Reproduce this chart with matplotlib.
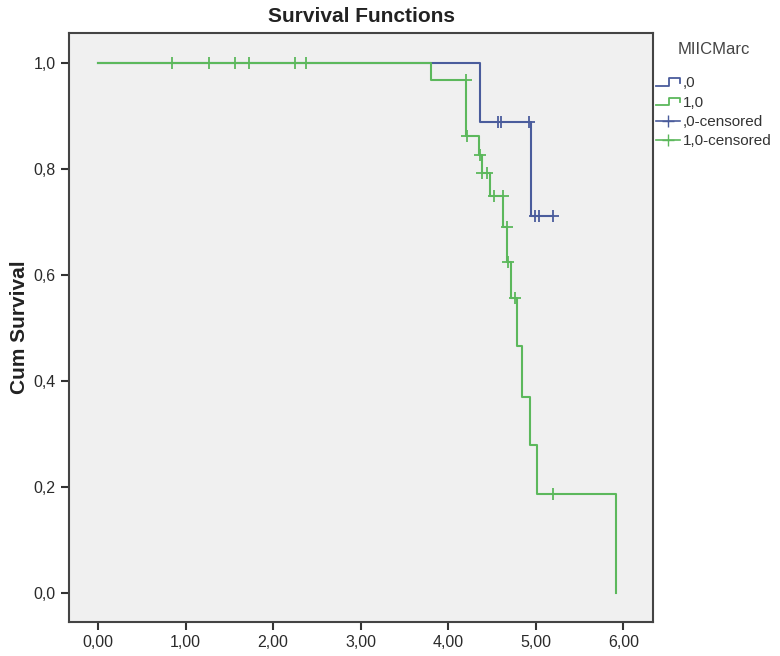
import matplotlib.pyplot as plt
from matplotlib.legend_handler import HandlerBase
from matplotlib.lines import Line2D
from matplotlib.ticker import FuncFormatter

plt.rcParams['font.family'] = ['Liberation Sans', 'DejaVu Sans']

# group ,0
t0 = [0.0, 4.36, 4.94, 5.19]
s0 = [1.0, 0.889, 0.711, 0.711]
c0_t = [4.57, 4.60, 4.92, 4.99, 5.04, 5.19]
c0_s = [0.889, 0.889, 0.889, 0.711, 0.711, 0.711]

# group 1,0
t1 = [0.0, 3.80, 4.20, 4.35, 4.38, 4.48, 4.63, 4.67, 4.72, 4.78, 4.84, 4.93, 5.01, 5.91, 5.91]
s1 = [1.0, 0.967, 0.863, 0.826, 0.792, 0.748, 0.691, 0.625, 0.557, 0.465, 0.370, 0.279, 0.187, 0.0, 0.0]
c1_t = [0.85, 1.27, 1.57, 1.73, 2.25, 2.38, 4.20, 4.21, 4.36, 4.39, 4.44, 4.52, 4.62,
        4.67, 4.68, 4.76, 5.19]
c1_s = [1.0, 1.0, 1.0, 1.0, 1.0, 1.0, 0.967, 0.863, 0.826, 0.792, 0.792, 0.748, 0.748,
        0.691, 0.625, 0.557, 0.187]

blue = '#4a5c9c'
green = '#5cb85c'


class StepHandler(HandlerBase):
    def create_artists(self, legend, orig_handle, x0, y0, w, h, fontsize, trans):
        xs = [x0, x0 + 0.55 * w, x0 + 0.55 * w, x0 + w, x0 + w]
        ys = [y0 + 0.15 * h, y0 + 0.15 * h, y0 + 0.85 * h, y0 + 0.85 * h, y0 + 0.4 * h]
        ln = Line2D(xs, ys, color=orig_handle.get_color(), lw=1.3, transform=trans)
        return [ln]


fig = plt.figure(figsize=(7.8, 6.56), dpi=100)
ax = fig.add_axes([0.0885, 0.052, 0.749, 0.898])
ax.set_facecolor('#f0f0f0')

ax.step(t0, s0, where='post', color=blue, lw=1.5)
ax.plot(c0_t, c0_s, ls='none', marker='+', ms=9, mew=1.3, color=blue)
ax.step(t1, s1, where='post', color=green, lw=1.5)
ax.plot(c1_t, c1_s, ls='none', marker='+', ms=9, mew=1.3, color=green)

ax.set_xlim(-0.33, 6.34)
ax.set_ylim(-0.055, 1.057)
ax.set_xticks([0, 1, 2, 3, 4, 5, 6])
ax.set_yticks([0, 0.2, 0.4, 0.6, 0.8, 1.0])
ax.xaxis.set_major_formatter(FuncFormatter(lambda v, p: f'{v:.2f}'.replace('.', ',')))
ax.yaxis.set_major_formatter(FuncFormatter(lambda v, p: f'{v:.1f}'.replace('.', ',')))
ax.tick_params(colors='#333333', labelsize=11.5, width=1.5, length=6, labelcolor='#2a2a2a')
for sp in ax.spines.values():
    sp.set_color('#444444')
    sp.set_linewidth(1.5)

ax.set_title('Survival Functions', fontsize=15, fontweight='bold', color='#222222', pad=8)
ax.set_ylabel('Cum Survival', fontsize=15, fontweight='bold', color='#222222', labelpad=3)

h_step0 = Line2D([], [], color=blue)
h_step1 = Line2D([], [], color=green)
h_c0 = Line2D([], [], color=blue, marker='+', ms=9, lw=1.2)
h_c1 = Line2D([], [], color=green, marker='+', ms=9, lw=1.2)
leg = fig.legend([h_step0, h_step1, h_c0, h_c1], [',0', '1,0', ',0-censored', '1,0-censored'],
                 handler_map={h_step0: StepHandler(), h_step1: StepHandler()},
                 title='MIICMarc\n', loc='upper left', bbox_to_anchor=(0.815, 0.966),
                 frameon=False, fontsize=11, title_fontsize=12,
                 handlelength=1.6, handletextpad=0.2, labelspacing=0.35,
                 borderpad=1.3, borderaxespad=0)
leg.get_title().set_color('#444444')
leg.get_title().set_linespacing(0.9)
for txt in leg.get_texts():
    txt.set_color('#333333')

fig.savefig('out.png', dpi=100)
